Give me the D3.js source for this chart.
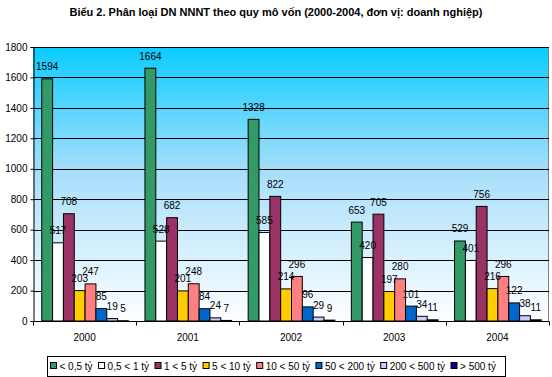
<!DOCTYPE html>
<html>
<head>
<meta charset="utf-8">
<script src="https://cdn.jsdelivr.net/npm/d3@7"></script>
<style>
  body { margin: 0; background: #fff; }
  svg { display: block; font-family: "Liberation Sans", Arial, sans-serif; }
</style>
</head>
<body>
<div id="chart"></div>
<script>
// categories and series
const years = ["2000", "2001", "2002", "2003", "2004"];
const seriesNames = ["< 0,5 tỷ", "0,5 < 1 tỷ", "1 < 5 tỷ", "5 < 10 tỷ", "10 < 50 tỷ", "50 < 200 tỷ", "200 < 500 tỷ", "> 500 tỷ"];
const seriesColors = ["#339966", "#FFFFFF", "#993366", "#FFCC00", "#FF8080", "#0066CC", "#CCCCFF", "#000080"];

// values per series (one entry per year)
const lt05 = [1594, 1664, 1328, 653, 529];
const v05to1 = [517, 528, 585, 420, 401];
const v1to5 = [708, 682, 822, 705, 756];
const v5to10 = [203, 201, 214, 197, 216];
const v10to50 = [247, 248, 296, 280, 296];
const v50to200 = [85, 84, 96, 101, 122];
const v200to500 = [19, 24, 29, 34, 38];
const gt500 = [5, 7, 9, 11, 11];
const seriesValues = [lt05, v05to1, v1to5, v5to10, v10to50, v50to200, v200to500, gt500];

const yTicks = [0, 200, 400, 600, 800, 1000, 1200, 1400, 1600, 1800];

const W = 552, H = 377;
const margin = {top: 47, right: 3, bottom: 56, left: 33};
const w = W - margin.left - margin.right;
const h = H - margin.top - margin.bottom;

const svg = d3.select("#chart").append("svg")
  .attr("width", W).attr("height", H);

// title
svg.append("text")
  .attr("x", W / 2).attr("y", 16)
  .attr("text-anchor", "middle")
  .style("font-size", "11px")
  .style("font-weight", "bold")
  .text("Biểu 2. Phân loại DN NNNT theo quy mô vốn (2000-2004, đơn vị: doanh nghiệp)");

// gradient background of the plot area
const grad = svg.append("defs").append("linearGradient")
  .attr("id", "bg").attr("x1", 0).attr("y1", 0).attr("x2", 0).attr("y2", 1);
grad.append("stop").attr("offset", "0%").attr("stop-color", "#0ACCFF");
grad.append("stop").attr("offset", "45%").attr("stop-color", "#A6DEFA");
grad.append("stop").attr("offset", "100%").attr("stop-color", "#FFFFFF");

const g = svg.append("g").attr("transform", `translate(${margin.left},${margin.top})`);

g.append("rect").attr("width", w).attr("height", h).attr("fill", "url(#bg)");
// grey border (top and right)
g.append("path")
  .attr("d", `M0,0.5H${w - 0.5}V${h}`)
  .attr("fill", "none").attr("stroke", "#808080").attr("stroke-width", 1);

const y = d3.scaleLinear().domain([0, 1800]).range([h, 0]);
const x0 = d3.scaleBand().domain(years).range([0, w]).paddingInner(0.16).paddingOuter(0.08);
const x1 = d3.scaleBand().domain(d3.range(seriesNames.length)).range([0, x0.bandwidth()]);

// gridlines
g.append("g").selectAll("line")
  .data(yTicks.filter(d => d > 0)).enter().append("line")
  .attr("x1", 0).attr("x2", w)
  .attr("y1", d => Math.round(y(d)) + 0.5).attr("y2", d => Math.round(y(d)) + 0.5)
  .attr("stroke", "#000").attr("stroke-width", 1);

// y axis
const yAxis = g.append("g").attr("transform", "translate(0.5,0)")
  .call(d3.axisLeft(y).tickValues(yTicks).tickSize(3).tickPadding(3).tickFormat(d3.format("d")));
yAxis.select(".domain").attr("stroke", "#000");
yAxis.selectAll("text").style("font-size", "10px").attr("fill", "#000");

// bars
const groups = g.selectAll(".year").data(years).enter().append("g")
  .attr("transform", d => `translate(${x0(d)},0)`);

groups.each(function(yr, yi) {
  const grp = d3.select(this);
  const vals = seriesValues.map((s, si) => ({si, v: s[yi]}));
  grp.selectAll("rect").data(vals).enter().append("rect")
    .attr("x", d => x1(d.si) + 0.5)
    .attr("y", d => y(d.v) + 0.5)
    .attr("width", x1.bandwidth())
    .attr("height", d => Math.max(0, h - y(d.v) - 0.5))
    .attr("fill", d => seriesColors[d.si])
    .attr("stroke", "#000").attr("stroke-width", 1);
  grp.selectAll("text").data(vals).enter().append("text")
    .attr("x", d => x1(d.si) + x1.bandwidth() / 2 + 0.5)
    .attr("y", d => y(d.v) - 8)
    .attr("text-anchor", "middle")
    .style("font-size", "10px")
    .text(d => d.v);
});

// x axis
const xAxisScale = d3.scaleLinear().domain([0, years.length]).range([0, w]);
const xg = g.append("g").attr("transform", `translate(0,${h + 0.5})`);
xg.append("line").attr("x1", 0).attr("x2", w).attr("stroke", "#000");
xg.selectAll(".tk").data(d3.range(years.length + 1)).enter().append("line")
  .attr("x1", d => Math.round(xAxisScale(d)) + 0.5).attr("x2", d => Math.round(xAxisScale(d)) + 0.5)
  .attr("y1", 0).attr("y2", 4).attr("stroke", "#000");
xg.selectAll("text").data(years).enter().append("text")
  .attr("x", d => x0(d) + x0.bandwidth() / 2)
  .attr("y", 19)
  .attr("text-anchor", "middle")
  .style("font-size", "10px")
  .text(d => d);

// legend
const legend = svg.append("g").attr("transform", "translate(47.5,356.5)");
const legendBox = legend.append("rect").attr("height", 20).attr("fill", "#fff").attr("stroke", "#000");
let lx = 3;
seriesNames.forEach((name, i) => {
  legend.append("rect")
    .attr("x", lx).attr("y", 6).attr("width", 6).attr("height", 6)
    .attr("fill", seriesColors[i]).attr("stroke", "#000");
  const t = legend.append("text")
    .attr("x", lx + 9).attr("y", 13.5)
    .style("font-size", "10px")
    .text(name);
  lx += 9 + t.node().getComputedTextLength() + 6;
});
legendBox.attr("width", Math.max(lx, 458));
</script>
</body>
</html>
